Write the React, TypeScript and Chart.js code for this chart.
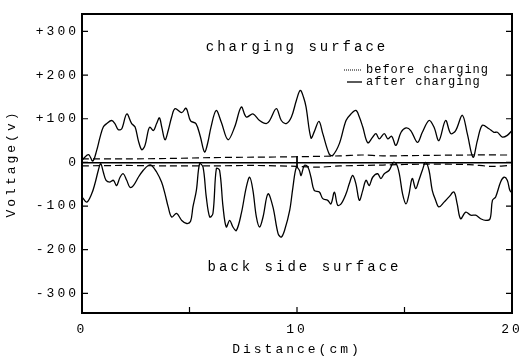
import { useEffect, useRef } from 'react';
import { Chart, registerables } from 'chart.js';
Chart.register(...registerables);

// Charging surface, after charging
const upperX = [0, 0.3, 0.5, 0.68, 0.84, 0.99, 1.15, 1.38, 1.53, 1.69, 1.85, 2.08, 2.31, 2.47, 2.62, 2.78, 2.93, 3.08, 3.16, 3.32, 3.47, 3.6, 3.71, 3.86, 4.01, 4.17, 4.33, 4.64, 4.84, 5.05, 5.3, 5.5, 5.7, 5.85, 6.0, 6.24, 6.48, 6.79, 7.1, 7.41, 7.64, 7.95, 8.26, 8.57, 8.73, 9.04, 9.27, 9.5, 9.74, 9.97, 10.15, 10.3, 10.42, 10.65, 10.8, 11.02, 11.2, 11.5, 11.66, 11.97, 12.28, 12.51, 12.74, 12.9, 13.06, 13.29, 13.52, 13.67, 13.83, 14.06, 14.22, 14.4, 14.6, 14.84, 15.07, 15.29, 15.6, 15.83, 16.14, 16.37, 16.6, 16.91, 17.15, 17.38, 17.69, 17.92, 18.19, 18.39, 18.62, 18.93, 19.16, 19.32, 19.55, 19.78, 20];
const upperV = [5, 18, 3, 27, 58, 81, 89, 96, 89, 75, 77, 111, 89, 81, 50, 29, 39, 73, 81, 73, 89, 102, 81, 52, 73, 104, 123, 114, 124, 95, 89, 60, 24, 45, 81, 119, 92, 52, 81, 127, 104, 111, 96, 89, 96, 123, 96, 89, 104, 142, 165, 150, 127, 56, 70, 94, 66, 19, 16, 43, 96, 111, 119, 104, 81, 45, 58, 66, 54, 66, 54, 60, 39, 69, 79, 73, 46, 69, 96, 81, 50, 96, 66, 73, 108, 66, 12, 50, 85, 77, 69, 69, 58, 62, 73];

// Back side surface, after charging
const lowerX = [0, 0.22, 0.45, 0.6, 0.76, 0.87, 0.99, 1.12, 1.3, 1.46, 1.61, 1.77, 1.92, 2.08, 2.23, 2.39, 2.62, 2.85, 3.08, 3.24, 3.47, 3.7, 3.86, 4.01, 4.17, 4.4, 4.64, 4.87, 5.05, 5.16, 5.32, 5.47, 5.63, 5.78, 5.94, 6.09, 6.25, 6.4, 6.56, 6.71, 6.87, 7.02, 7.18, 7.41, 7.64, 7.8, 7.95, 8.11, 8.26, 8.42, 8.65, 8.88, 9.12, 9.27, 9.42, 9.66, 9.81, 9.97, 10.11, 10.19, 10.34, 10.5, 10.65, 10.8, 11.04, 11.2, 11.43, 11.58, 11.74, 11.89, 12.05, 12.28, 12.43, 12.59, 12.74, 12.9, 13.06, 13.21, 13.36, 13.52, 13.75, 13.9, 14.06, 14.29, 14.48, 14.62, 14.76, 14.91, 15.07, 15.2, 15.36, 15.52, 15.67, 15.83, 15.98, 16.14, 16.29, 16.45, 16.6, 16.84, 17.07, 17.3, 17.45, 17.61, 17.85, 18.08, 18.31, 18.54, 18.78, 18.98, 19.09, 19.24, 19.47, 19.63, 19.78, 19.9, 20];
const lowerV = [-79, -91, -72, -49, -18, -3, -22, -41, -45, -41, -53, -34, -26, -41, -57, -53, -34, -18, -7, -7, -22, -45, -72, -102, -125, -117, -133, -140, -135, -102, -64, -3, -11, -79, -125, -117, -14, -18, -102, -148, -133, -148, -156, -117, -57, -34, -64, -125, -148, -125, -72, -102, -163, -171, -156, -110, -57, -11, -18, -30, -7, -10, -34, -64, -68, -83, -87, -95, -68, -98, -95, -72, -49, -30, -49, -87, -64, -41, -53, -34, -26, -37, -26, -18, 0, -3, -26, -72, -95, -75, -37, -60, -41, -18, 0, -18, -64, -87, -102, -91, -79, -68, -95, -129, -114, -121, -121, -129, -133, -129, -87, -79, -45, -34, -41, -64, -70];

// Before charging (both surfaces)
const beforeUpperX = [0, 2, 4, 6, 8, 10, 12, 13, 14, 16, 18, 20];
const beforeUpperV = [8, 8, 9, 11, 12, 13, 15, 17, 15, 16, 17, 17];
const beforeLowerX = [0, 2, 4, 6, 8, 10, 11, 12, 14, 16, 18, 19, 20];
const beforeLowerV = [-8, -7, -8, -8, -7, -9, -11, -8, -6, -4, -5, -9, -7];

// Small cross mark at x = 10
const markX = [10, 10];
const markV = [14, -12];

const yTicks = [-300, -200, -100, 0, 100, 200, 300];
const xTicks = [0, 10, 20];
const xInnerTicks = [5, 10, 15];
const yMin = -345;
const yMax = 340;

const annotationTexts = ['charging surface', 'back side surface'];
const annotationX = [10.0, 10.35];
const annotationY = [263, -240];
const legendLabels = ['before charging', 'after charging'];

const FONT = '"Liberation Mono", "DejaVu Sans Mono", monospace';

const pts = (xs: number[], vs: number[]) => xs.map((x, i) => ({ x, y: vs[i] }));

const decorPlugin = {
  id: 'decor',
  beforeUpdate(chart: any) {
    chart.ctx.letterSpacing = '3px';
  },
  beforeDraw(chart: any) {
    const ctx = chart.ctx;
    ctx.save();
    ctx.fillStyle = '#fff';
    ctx.fillRect(0, 0, chart.width, chart.height);
    ctx.restore();
    ctx.letterSpacing = '3px';
  },
  afterDatasetsDraw(chart: any) {
    const ctx = chart.ctx;
    const { left, right, top, bottom } = chart.chartArea;
    const xs = chart.scales.x;
    const ys = chart.scales.y;
    ctx.save();
    ctx.strokeStyle = '#000';
    ctx.lineWidth = 2;
    ctx.strokeRect(left, top, right - left, bottom - top);
    ctx.lineWidth = 1.2;
    ctx.beginPath();
    for (const v of yTicks) {
      const py = ys.getPixelForValue(v);
      ctx.moveTo(left, py);
      ctx.lineTo(left + 6, py);
      ctx.moveTo(right - 6, py);
      ctx.lineTo(right, py);
    }
    for (const v of xInnerTicks) {
      const px = xs.getPixelForValue(v);
      ctx.moveTo(px, bottom);
      ctx.lineTo(px, bottom - 6);
    }
    ctx.stroke();

    ctx.fillStyle = '#000';
    ctx.font = `14px ${FONT}`;
    ctx.letterSpacing = '3px';
    ctx.textAlign = 'center';
    ctx.textBaseline = 'middle';
    annotationTexts.forEach((t, i) => {
      ctx.fillText(t, xs.getPixelForValue(annotationX[i]), ys.getPixelForValue(annotationY[i]));
    });

    // legend
    ctx.font = `12px ${FONT}`;
    ctx.letterSpacing = '1px';
    ctx.textAlign = 'left';
    const lx = right - 146;
    const ly = [70, 82];
    ctx.lineWidth = 1;
    ctx.setLineDash([1, 1]);
    ctx.beginPath();
    ctx.moveTo(lx - 22, ly[0]);
    ctx.lineTo(lx - 4, ly[0]);
    ctx.stroke();
    ctx.setLineDash([]);
    ctx.lineWidth = 1.3;
    ctx.beginPath();
    ctx.moveTo(lx - 19, ly[1]);
    ctx.lineTo(lx - 4, ly[1]);
    ctx.stroke();
    legendLabels.forEach((t, i) => ctx.fillText(t, lx, ly[i]));
    ctx.restore();
  },
};

export default function App() {
  const ref = useRef<HTMLCanvasElement>(null);
  useEffect(() => {
    document.body.style.margin = '0';
    const solid = { borderColor: '#000', borderWidth: 1.3, pointRadius: 0, tension: 0.35, fill: false };
    const dashed = { borderColor: '#000', borderWidth: 1.2, pointRadius: 0, tension: 0.3, fill: false, borderDash: [7, 4] };
    const chart = new Chart(ref.current!, {
      type: 'line',
      data: {
        datasets: [
          { ...solid, label: 'after charging (charging surface)', data: pts(upperX, upperV) },
          { ...solid, label: 'after charging (back side)', data: pts(lowerX, lowerV) },
          { ...dashed, label: 'before charging (charging surface)', data: pts(beforeUpperX, beforeUpperV) },
          { ...dashed, label: 'before charging (back side)', data: pts(beforeLowerX, beforeLowerV) },
          { ...solid, tension: 0, borderWidth: 1, label: 'mark', data: pts(markX, markV) },
        ],
      },
      options: {
        responsive: false,
        animation: false,
        layout: { padding: { left: 0, right: 0, top: 14, bottom: 0 } },
        plugins: { legend: { display: false }, tooltip: { enabled: false } },
        scales: {
          x: {
            type: 'linear',
            min: 0,
            max: 20,
            afterBuildTicks: (s: any) => { s.ticks = xTicks.map((v) => ({ value: v })); },
            afterFit: (s: any) => { s.height = 50; s.paddingRight = 11; s.paddingLeft = 0; },
            grid: { display: false, drawTicks: false },
            border: { display: false },
            ticks: { color: '#000', padding: 9, font: { family: FONT, size: 13 }, maxRotation: 0, callback: (v: any) => String(v) },
            title: { display: true, text: 'Distance(cm)', color: '#000', font: { family: FONT, size: 13 }, padding: { top: 0, bottom: 6 } },
          },
          y: {
            type: 'linear',
            min: yMin,
            max: yMax,
            afterBuildTicks: (s: any) => { s.ticks = yTicks.map((v) => ({ value: v })); },
            afterFit: (s: any) => { s.width = 82; s.paddingTop = 0; s.paddingBottom = 0; },
            grid: {
              drawTicks: false,
              color: (c: any) => (c.tick && c.tick.value === 0 ? '#000' : 'rgba(0,0,0,0)'),
              lineWidth: 1.5,
            },
            border: { display: false },
            ticks: {
              color: '#000',
              padding: 3,
              font: { family: FONT, size: 13 },
              callback: (v: any) => (v > 0 ? '+' + v : String(v)),
            },
            title: { display: true, text: 'Voltage(v)', color: '#000', font: { family: FONT, size: 13 }, padding: { top: 4, bottom: 0 } },
          },
        },
      },
      plugins: [decorPlugin],
    } as any);
    return () => chart.destroy();
  }, []);
  return <canvas ref={ref} width={523} height={363} style={{ display: 'block' }} />;
}
